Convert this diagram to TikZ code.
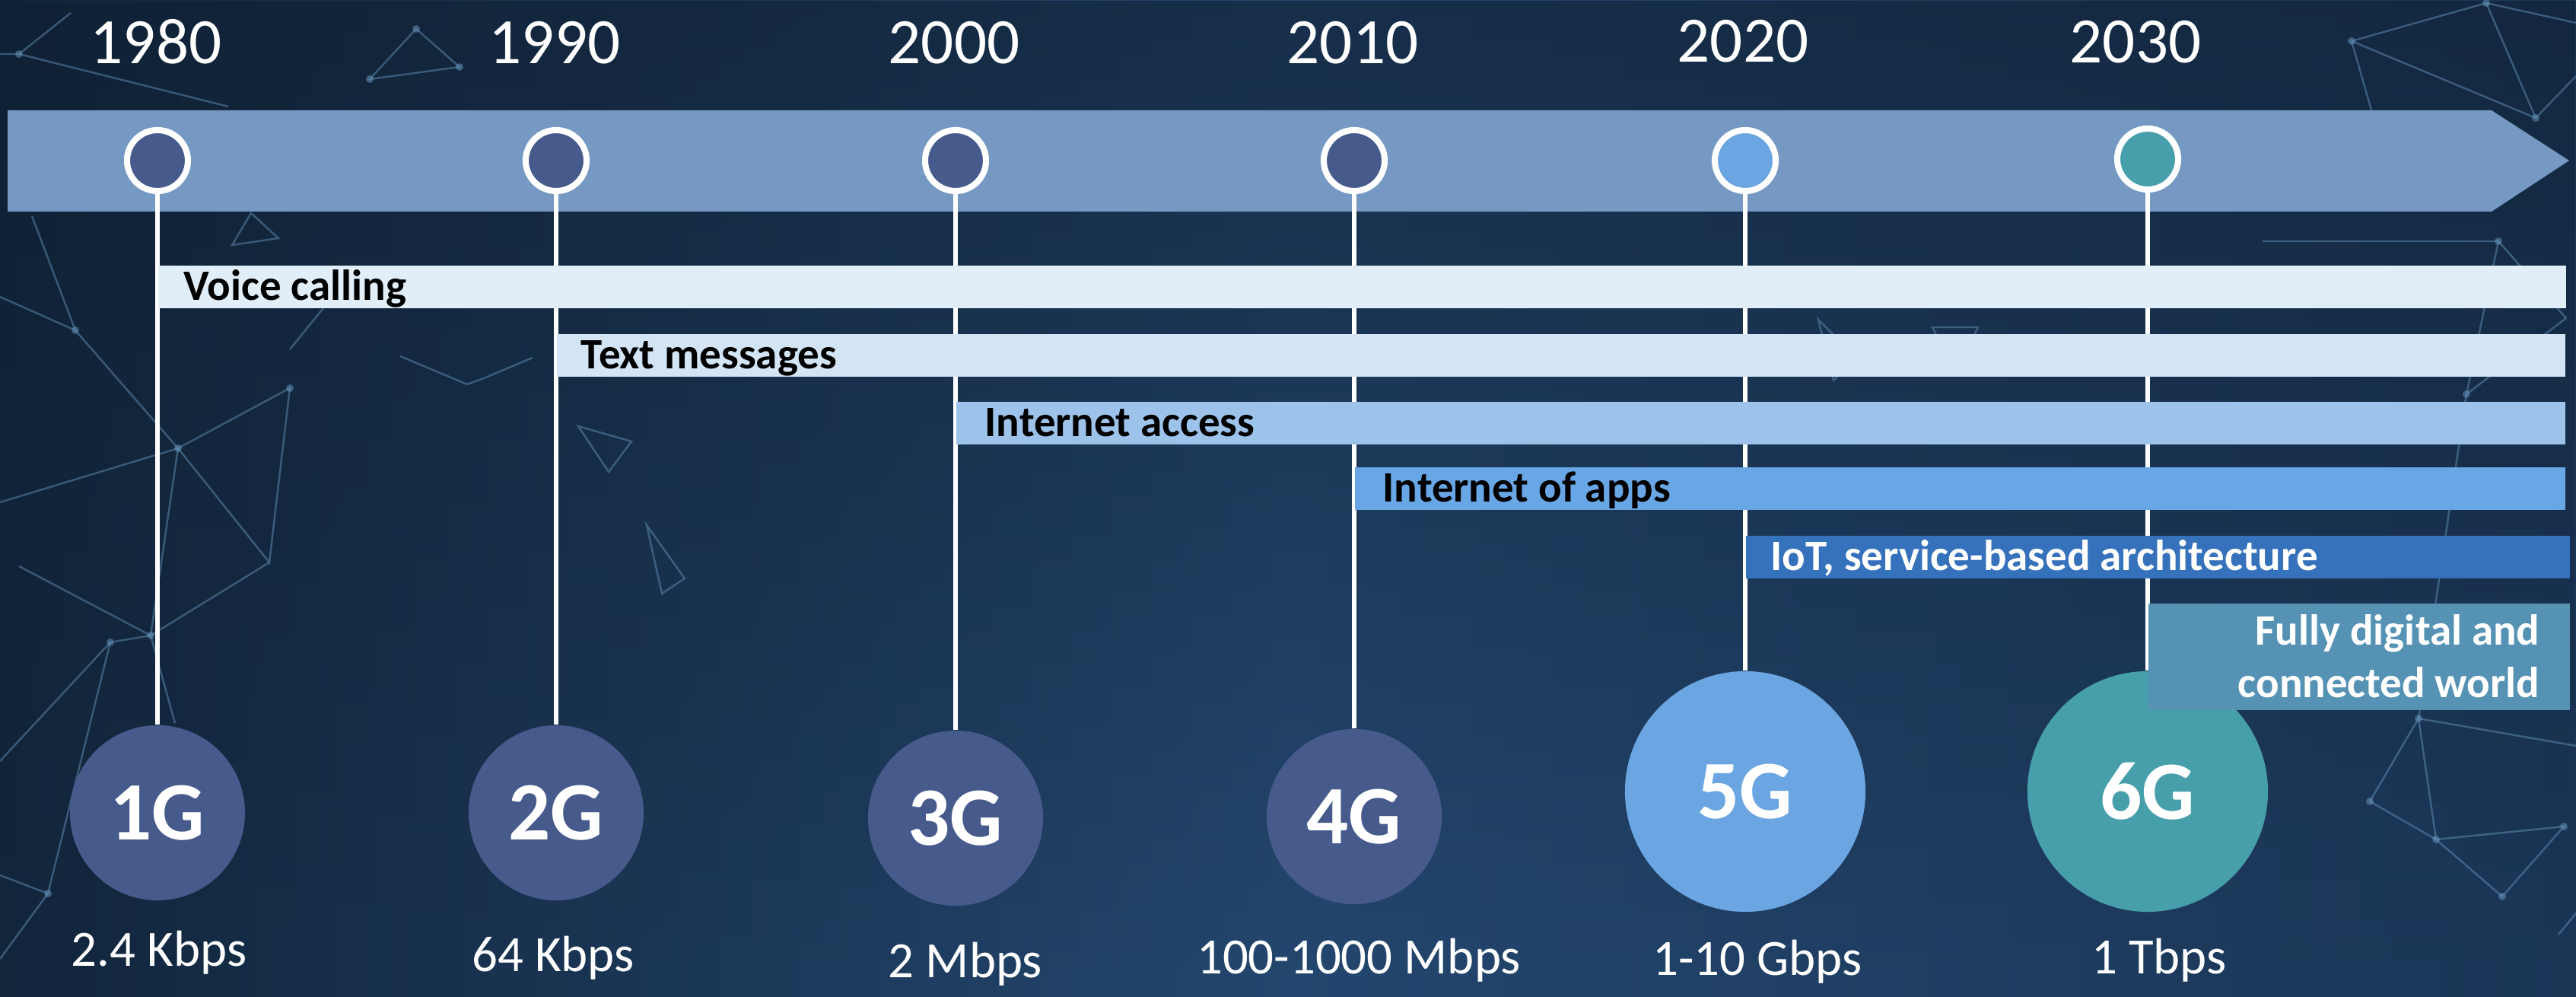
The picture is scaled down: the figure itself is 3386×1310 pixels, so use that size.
\documentclass[tikz,border=0pt]{standalone}
\usepackage{fontspec}
\setmainfont{Carlito}
\usetikzlibrary{fadings}
\definecolor{bgL}{HTML}{12263C}
\definecolor{bgM}{HTML}{24476F}
\definecolor{bgR}{HTML}{1B3657}
\definecolor{bgTop}{HTML}{0E1E30}
\definecolor{plex}{HTML}{6A9AC2}
\definecolor{bandc}{HTML}{7599C2}
\definecolor{dotdark}{HTML}{465A8C}
\definecolor{dotfive}{HTML}{6BA6E2}
\definecolor{dotsix}{HTML}{479FAC}
\definecolor{barA}{HTML}{E1EEF8}
\definecolor{barB}{HTML}{D3E4F5}
\definecolor{barC}{HTML}{9DC3EB}
\definecolor{barD}{HTML}{69A6E5}
\definecolor{barE}{HTML}{3671BC}
\definecolor{barF}{HTML}{5592B4}
\tikzfading[name=topdark, top color=transparent!0, bottom color=transparent!100]
\begin{document}
\begin{tikzpicture}[x=0.01cm, y=-0.01cm,
  tdot/.style={circle, draw=white, line width=2.3pt, minimum size=0.8cm, inner sep=0pt},
  gen/.style={circle, inner sep=0pt, text=white, font=\bfseries\fontsize{31pt}{36pt}\selectfont},
  small/.style={gen, minimum size=2.3cm},
  large/.style={gen, minimum size=3.16cm},
  year/.style={text=white, font=\fontsize{24.2pt}{29pt}\selectfont, anchor=base, inner sep=0pt},
  speed/.style={text=white, font=\fontsize{19pt}{23pt}\selectfont, anchor=base, inner sep=0pt},
  barbox/.style={rectangle, inner sep=0pt, minimum height=0.55cm, anchor=west},
  bartext/.style={font=\bfseries\fontsize{16.2pt}{19pt}\selectfont, anchor=base west, inner sep=0pt},
  vline/.style={draw=white, line width=1.7pt},
  plexline/.style={draw=plex, line width=0.7pt, opacity=0.45},
  plexdot/.style={fill=plex, opacity=0.5}
]
\useasboundingbox (0,0) rectangle (3386,1310);
% background
\shade[left color=bgL, right color=bgR, middle color=bgM] (0,0) rectangle (3386,1310);
\fill[bgTop, opacity=0.6, path fading=topdark] (0,0) rectangle (3386,1310);

% background network decoration (left)
\draw[plexline] (0,71) -- (25,71) -- (93,17);
\draw[plexline] (25,71) -- (300,140);
\draw[plexline] (0,390) -- (99,434) -- (42,284);
\draw[plexline] (99,434) -- (234,589) -- (381,510) -- (354,739) -- (234,589);
\draw[plexline] (0,660) -- (234,589);
\draw[plexline] (234,589) -- (198,835) -- (354,739);
\draw[plexline] (25,744) -- (198,835) -- (145,844) -- (63,1174);
\draw[plexline] (198,835) -- (230,950);
\draw[plexline] (0,1000) -- (145,844);
\draw[plexline] (0,1150) -- (63,1174) -- (0,1260);
\draw[plexline] (381,459) -- (425,405);
\draw[plexline] (486,104) -- (547,38) -- (604,88) -- cycle;
\draw[plexline] (305,322) -- (366,313) -- (330,280) -- cycle;
\draw[plexline] (614,505) -- (636,497) -- (700,470);
\draw[plexline] (526,468) -- (614,505);
\draw[plexline] (760,560) -- (800,620) -- (830,580) -- cycle;
\draw[plexline] (850,690) -- (870,780) -- (900,760) -- cycle;
% background network decoration (right)
\draw[plexline] (3091,54) -- (3268,4) -- (3333,155) -- (3091,54);
\draw[plexline] (3333,155) -- (3386,100);
\draw[plexline] (3268,4) -- (3386,30);
\draw[plexline] (3091,54) -- (3150,260);
\draw[plexline] (2974,317) -- (3284,317) -- (3373,418);
\draw[plexline] (3284,317) -- (3242,518) -- (3373,418);
\draw[plexline] (3242,518) -- (3179,944);
\draw[plexline] (3115,1053) -- (3202,1103) -- (3289,1178) -- (3370,1086) -- (3202,1103);
\draw[plexline] (3115,1053) -- (3179,944) -- (3202,1103);
\draw[plexline] (3363,1228) -- (3386,1200);
\draw[plexline] (3179,944) -- (3386,980);
\draw[plexline] (2390,420) -- (2440,470) -- (2410,500) -- cycle;
\draw[plexline] (2540,430) -- (2600,430) -- (2570,490) -- cycle;
\foreach \p in {(25,71),(99,434),(234,589),(381,510),(198,835),(145,844),(63,1174),(547,38),(604,88),(486,104),(3091,54),(3268,4),(3333,155),(3284,317),(3242,518),(3179,944),(3115,1053),(3202,1103),(3289,1178),(3370,1086)}
  \fill[plexdot] \p circle (5);

% timeline band (arrow)
\fill[bandc] (10,145) -- (3275,145) -- (3377,211) -- (3275,278) -- (10,278) -- cycle;

% generation circles on the band
\node[tdot, fill=dotdark] (s1) at (207,211) {};
\node[tdot, fill=dotdark] (s2) at (731,211) {};
\node[tdot, fill=dotdark] (s3) at (1256,211) {};
\node[tdot, fill=dotdark] (s4) at (1780,211) {};
\node[tdot, fill=dotfive] (s5) at (2294,211) {};
\node[tdot, fill=dotsix] (s6) at (2823,209) {};

% big generation circles
\node[small, fill=dotdark] (g1) at (207,1068) {1G};
\node[small, fill=dotdark] (g2) at (731,1068) {2G};
\node[small, fill=dotdark] (g3) at (1256,1075) {3G};
\node[small, fill=dotdark] (g4) at (1780,1073) {4G};
\node[large, fill=dotfive] (g5) at (2294,1040) {5G};
\node[large, fill=dotsix] (g6) at (2823,1040) {6G};

% connectors
\foreach \i in {1,...,6} \draw[vline] (s\i.south) -- (g\i.north);

% years
\node[year] (y1) at (205,84) {1980};
\node[year] (y2) at (729,84) {1990};
\node[year] (y3) at (1254,84) {2000};
\node[year] (y4) at (1778,84) {2010};
\node[year] (y5) at (2291,82) {2020};
\node[year] (y6) at (2807,83) {2030};

% feature bars
\node[barbox, fill=barA, minimum width=31.63cm] (bA) at (207,377) {};
\node[bartext] (tA) at (241,395) {Voice calling};
\node[barbox, fill=barB, minimum width=26.39cm] (bB) at (731,467) {};
\node[bartext] (tB) at (763,485) {Text messages};
\node[barbox, fill=barC, minimum width=21.14cm] (bC) at (1256,556) {};
\node[bartext] (tC) at (1294,574) {Internet access};
\node[barbox, fill=barD, minimum width=15.90cm] (bD) at (1780,642) {};
\node[bartext] (tD) at (1817,660) {Internet of apps};
\node[barbox, fill=barE, minimum width=10.83cm] (bE) at (2294,732) {};
\node[bartext, text=white] (tE) at (2327,750) {IoT, service-based architecture};
\node[barbox, fill=barF, minimum width=5.54cm, minimum height=1.40cm] (bF) at (2823,863) {};
\node[bartext, text=white, anchor=base east] (tF1) at (3339,848) {Fully digital and};
\node[bartext, text=white, anchor=base east] (tF2) at (3339,917) {connected world};

% speeds
\node[speed] (v1) at (209,1270) {2.4 Kbps};
\node[speed] (v2) at (727,1277) {64 Kbps};
\node[speed] (v3) at (1269,1285) {2 Mbps};
\node[speed] (v4) at (1786,1280) {100-1000 Mbps};
\node[speed] (v5) at (2310,1282) {1-10 Gbps};
\node[speed] (v6) at (2838,1280) {1 Tbps};
\end{tikzpicture}
\end{document}
